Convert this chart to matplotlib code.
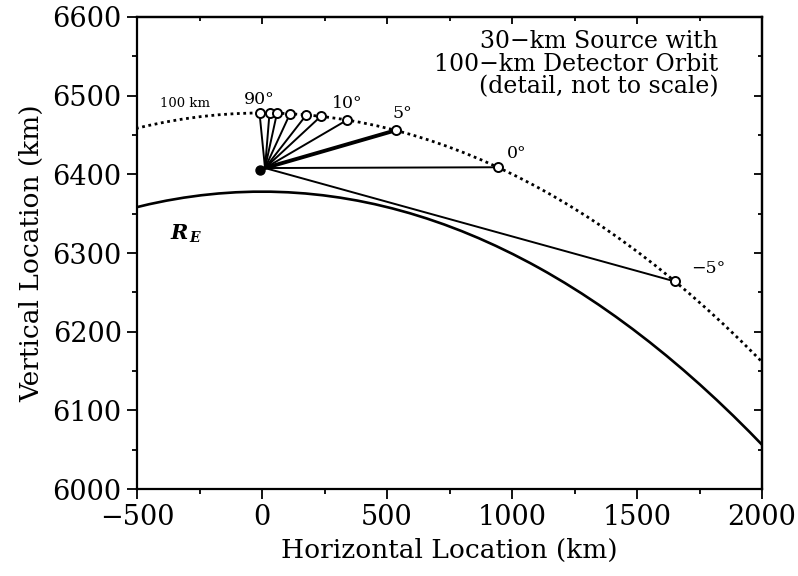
import matplotlib
matplotlib.use("Agg")
import matplotlib.pyplot as plt
from matplotlib.patches import Arc
from matplotlib.ticker import MultipleLocator

plt.rcParams['font.family'] = ['DejaVu Serif']
plt.rcParams['mathtext.fontset'] = 'dejavuserif'

# ---- data ----
earth_radius = 6378          # km, R_E
orbit_radius = 6478          # km, 100-km detector orbit
source_dot = (-8, 6406)      # filled source marker
ray_origin = (12, 6408)      # where the rays start
elev_labels = ["90°", "", "", "", "", "", "10°", "5°", "0°", "\u22125°"]
det_x = [-10, 30, 60, 112, 176, 236, 340, 535, 945, 1650]
det_y = [6478, 6478, 6478, 6477, 6475, 6474, 6469, 6456, 6409, 6264]
label_offsets = [(0, 10), None, None, None, None, None, (0, 12), (5, 12), (13, 10), (24, 9)]
xlim = (-500, 2000)
ylim = (6000, 6600)

fig = plt.figure(figsize=(7.98, 5.76), dpi=100)
ax = fig.add_axes([0.1717, 0.151, 0.7832, 0.8195])
ax.set_xlim(*xlim)
ax.set_ylim(*ylim)

# Earth surface and detector orbit
ax.add_patch(Arc((0, 0), 2 * earth_radius, 2 * earth_radius, theta1=60, theta2=100,
                 color='black', lw=1.9, zorder=2))
ax.add_patch(Arc((0, 0), 2 * orbit_radius, 2 * orbit_radius, theta1=60, theta2=100,
                 color='black', lw=2.0, linestyle=(0, (1, 1.3)), zorder=2))

# rays
for i, (x, y) in enumerate(zip(det_x, det_y)):
    lw = 2.8 if elev_labels[i] == "5°" else 1.4
    ax.plot([ray_origin[0], x], [ray_origin[1], y], color='black', lw=lw,
            solid_capstyle='round', zorder=3)

ax.plot(det_x, det_y, 'o', ms=6.5, mfc='white', mec='black', mew=1.4, zorder=4,
        linestyle='none')
ax.plot([source_dot[0]], [source_dot[1]], 'o', ms=6.5, color='black', zorder=4)

for lab, off, x, y in zip(elev_labels, label_offsets, det_x, det_y):
    if lab:
        ax.annotate(lab, (x, y), xytext=off, textcoords='offset points',
                    ha='center', va='center', fontsize=12.5)

ax.text(-308, 6490, "100 km", fontsize=9.5, ha='center', va='center')
ax.text(-330, 6326, "R", fontsize=15, fontweight='bold', fontstyle='italic',
        ha='center', va='center')
ax.annotate("E", (-330, 6326), xytext=(7, -4), textcoords='offset points',
            fontsize=10, fontweight='bold', fontstyle='italic', ha='left', va='center')

ax.text(0.93, 0.972, "30\u2212km Source with\n100\u2212km Detector Orbit\n(detail, not to scale)",
        transform=ax.transAxes, ha='right', va='top', multialignment='right',
        fontsize=17, linespacing=0.98)

# axes styling
for sp in ax.spines.values():
    sp.set_linewidth(1.6)
ax.xaxis.set_major_locator(MultipleLocator(500))
ax.xaxis.set_minor_locator(MultipleLocator(250))
ax.yaxis.set_major_locator(MultipleLocator(100))
ax.yaxis.set_minor_locator(MultipleLocator(50))
ax.tick_params(which='both', direction='out', top=False, right=False, width=1.3)
ax.tick_params(which='major', length=7, labelsize=19.5, pad=4)
ax.tick_params(which='minor', length=3.5)
ax.set_xticklabels([f"{int(v)}".replace('-', '\u2212') for v in ax.get_xticks()])

secx = ax.secondary_xaxis('top')
secx.xaxis.set_major_locator(MultipleLocator(500))
secx.xaxis.set_minor_locator(MultipleLocator(250))
secx.tick_params(which='both', direction='in', labeltop=False, width=1.3)
secx.tick_params(which='major', length=5)
secx.tick_params(which='minor', length=3)
secx.spines['top'].set_linewidth(1.6)

secy = ax.secondary_yaxis('right')
secy.yaxis.set_major_locator(MultipleLocator(100))
secy.yaxis.set_minor_locator(MultipleLocator(50))
secy.tick_params(which='both', direction='in', labelright=False, width=1.3)
secy.tick_params(which='major', length=6)
secy.tick_params(which='minor', length=3)
secy.spines['right'].set_linewidth(1.6)

ax.set_xlabel("Horizontal Location (km)", fontsize=19, labelpad=5)
ax.set_ylabel("Vertical Location (km)", fontsize=19, labelpad=6)

fig.savefig("out.png", dpi=100)
